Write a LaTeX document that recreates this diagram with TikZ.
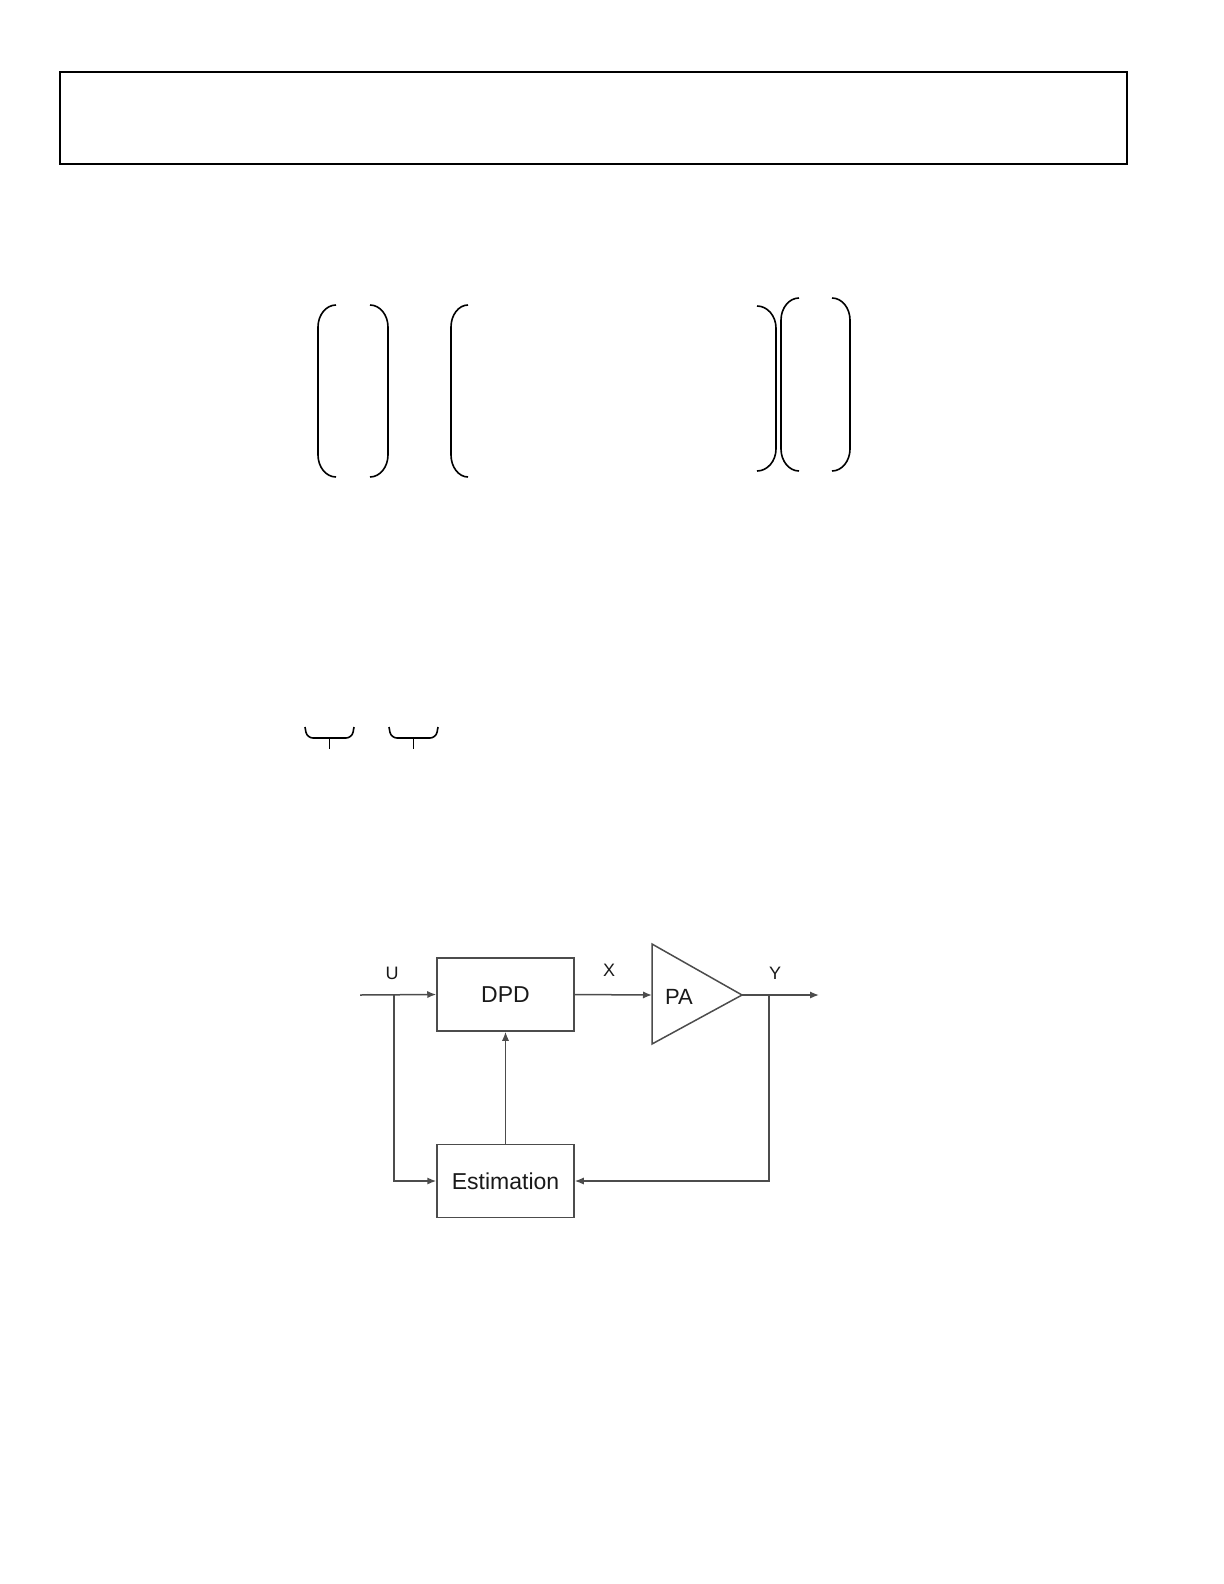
\documentclass[tikz,border=0pt]{standalone}
\usepackage{fontspec}
\usepackage{tikz}
\newfontfamily\arialfont{Liberation Sans}
\usetikzlibrary{positioning,calc,arrows.meta}

\begin{document}
\begin{tikzpicture}[x=0.5pt,y=-0.5pt,
    brk/.style={line width=0.8pt},
    brc/.style={line width=0.8pt,rounded corners=3pt},
    blk/.style={draw=black!70,line width=0.75pt,rectangle,minimum width=68.5pt,minimum height=36.5pt,
                font=\arialfont\fontsize{11.5}{13}\selectfont,text=black!90},
    arr/.style={draw=black!70,line width=0.75pt,-{Latex[length=4.5pt,width=3.6pt]}},
    lbl/.style={font=\arialfont\fontsize{9}{11}\selectfont,text=black!90}]
    \useasboundingbox (0,0) rectangle (1224,1584);

    % frame at the top
    \draw[line width=1pt] (60,72) rectangle (1127,164);

    % matrix delimiters
    \foreach \xv/\xe/\yt/\yb in {318/336/305/477, 388/370/305/477, 451/468/305/477,
                                 776/757/306/471, 781/799/298/471, 850/832/298/471}
        \draw[brk] (\xe,\yt) .. controls ({\xe+0.55*(\xv-\xe)},\yt) and (\xv,\yt+10) .. (\xv,\yt+22)
                   -- (\xv,\yb-22) .. controls (\xv,\yb-10) and ({\xe+0.55*(\xv-\xe)},\yb) .. (\xe,\yb);

    % underbraces
    \foreach \xa/\xb in {305/354, 389/438}{
        \draw[brc] (\xa,727) -- (\xa+2,738) -- (\xb-2,738) -- (\xb,727);
        \draw[line width=0.8pt] ({(\xa+\xb)/2},738) -- ({(\xa+\xb)/2},749);
    }

    % DPD loop
    \node[blk] (dpd) at (505.5,994.5) {DPD};
    \node[blk] (est) at (505.5,1181) {Estimation};
    \draw[draw=black!70,line width=0.75pt] (652,944) -- (742,995) -- (652,1044) -- cycle;
    \node[font=\arialfont\fontsize{11}{13}\selectfont,text=black!90] (pa) at (679,997) {PA};
    \coordinate (pain) at (652,995);
    \coordinate (paout) at (742,995);

    \coordinate (uin) at (360,995);
    \coordinate (ubr) at (394,995);
    \coordinate (ybr) at (769,995);
    \coordinate (yout) at (819,995);

    \draw[arr] (uin) -- (dpd.west);
    \draw[arr] (ubr) |- (est.west);
    \draw[arr] (dpd.east) -- (pain);
    \draw[arr] (est.north) -- (dpd.south);
    \draw[arr] (paout) -- (yout);
    \draw[arr] (ybr) |- (est.east);

    \node[lbl] (ulbl) at (392,973) {U};
    \node[lbl] (xlbl) at (609,970) {X};
    \node[lbl] (ylbl) at (775,973) {Y};
\end{tikzpicture}
\end{document}
